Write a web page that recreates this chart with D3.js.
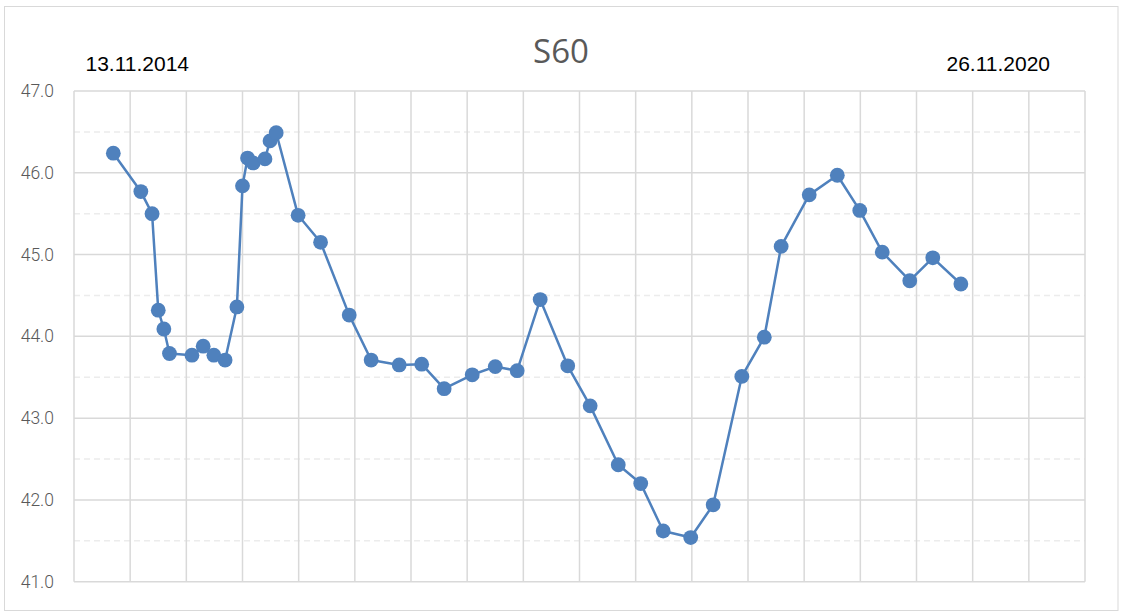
<!DOCTYPE html>
<html>
<head>
<meta charset="utf-8">
<script src="https://cdn.jsdelivr.net/npm/d3@7/dist/d3.min.js"></script>
<style>
  html, body { margin: 0; padding: 0; background: #fff; }
  svg { display: block; }
</style>
</head>
<body>
<svg id="chart" width="1121" height="612"></svg>
<script>
// ---- data ----
const title = "S60";
const startLabel = "13.11.2014";
const endLabel = "26.11.2020";
// x positions in grid-column units (18 columns across the plot)
const xValues = [0.70, 1.19, 1.39, 1.50, 1.60, 1.70, 2.10, 2.30, 2.49, 2.69,
                 2.90, 3.00, 3.09, 3.19, 3.40, 3.49, 3.60, 3.99, 4.39, 4.90,
                 5.29, 5.79, 6.19, 6.59, 7.09, 7.50, 7.89, 8.30, 8.79, 9.19,
                 9.69, 10.09, 10.49, 10.98, 11.38, 11.89, 12.29, 12.59, 13.09, 13.59,
                 13.99, 14.39, 14.88, 15.29, 15.79];
const yValues = [46.24, 45.77, 45.50, 44.32, 44.09, 43.79, 43.77, 43.88, 43.77, 43.71,
                 44.36, 45.84, 46.18, 46.12, 46.17, 46.39, 46.49, 45.48, 45.15, 44.26,
                 43.71, 43.65, 43.66, 43.36, 43.53, 43.63, 43.58, 44.45, 43.64, 43.15,
                 42.43, 42.20, 41.62, 41.54, 41.94, 43.51, 43.99, 45.10, 45.73, 45.97,
                 45.54, 45.03, 44.68, 44.96, 44.64];
const yTicks = [41, 42, 43, 44, 45, 46, 47];
const yMinor = [41.5, 42.5, 43.5, 44.5, 45.5, 46.5];
const xGrid = d3.range(0, 19);

const points = xValues.map((x, i) => ({x, y: yValues[i]}));

// ---- layout ----
const svg = d3.select("#chart");
const L = 74, R = 1085, T = 91, B = 581.7;
const x = d3.scaleLinear().domain([0, 18]).range([L, R]);
const y = d3.scaleLinear().domain([41, 47]).range([B, T]);

// outer border
svg.append("rect")
  .attr("x", 4.5).attr("y", 6.5).attr("width", 1113.5).attr("height", 604)
  .attr("fill", "#fff").attr("stroke", "#d9d9d9").attr("stroke-width", 1);

// minor dashed horizontal gridlines
svg.append("g").selectAll("line").data(yMinor).join("line")
  .attr("x1", L).attr("x2", R)
  .attr("y1", d => y(d)).attr("y2", d => y(d))
  .attr("stroke", "#ececec").attr("stroke-width", 1.5)
  .attr("stroke-dasharray", "6,4");

// major horizontal gridlines
svg.append("g").selectAll("line").data(yTicks).join("line")
  .attr("x1", L).attr("x2", R)
  .attr("y1", d => y(d)).attr("y2", d => y(d))
  .attr("stroke", "#d9d9d9").attr("stroke-width", 1.5);

// vertical gridlines
svg.append("g").selectAll("line").data(xGrid).join("line")
  .attr("x1", d => x(d)).attr("x2", d => x(d))
  .attr("y1", T).attr("y2", B)
  .attr("stroke", "#d9d9d9").attr("stroke-width", 1.5);

// y axis labels
const yAxis = d3.axisLeft(y).tickValues(yTicks).tickFormat(d3.format(".1f")).tickSize(0).tickPadding(20);
const gy = svg.append("g").attr("transform", `translate(${L},0)`).call(yAxis);
gy.select(".domain").remove();
gy.selectAll("text")
  .attr("fill", "#595959")
  .style("font-family", "Roboto, 'Liberation Sans Narrow', sans-serif")
  .style("font-weight", "300")
  .style("font-size", "17.5px");

// line
svg.append("path")
  .datum(points)
  .attr("fill", "none")
  .attr("stroke", "#4f81bd")
  .attr("stroke-width", 2.5)
  .attr("stroke-linejoin", "round")
  .attr("d", d3.line().x(d => x(d.x)).y(d => y(d.y)));

// markers
svg.append("g").selectAll("circle").data(points).join("circle")
  .attr("cx", d => x(d.x)).attr("cy", d => y(d.y))
  .attr("r", 7.4)
  .attr("fill", "#4f81bd");

// title
svg.append("text")
  .attr("x", 561).attr("y", 62.5)
  .attr("text-anchor", "middle")
  .attr("fill", "#595959")
  .style("font-family", "'Open Sans', sans-serif")
  .style("font-size", "33px")
  .text(title);

// date labels
svg.append("text")
  .attr("x", 85.5).attr("y", 71)
  .attr("fill", "#000")
  .style("font-family", "'Liberation Sans', Arial, sans-serif")
  .style("font-size", "21px")
  .text(startLabel);
svg.append("text")
  .attr("x", 946.5).attr("y", 71)
  .attr("fill", "#000")
  .style("font-family", "'Liberation Sans', Arial, sans-serif")
  .style("font-size", "21px")
  .text(endLabel);
</script>
</body>
</html>
